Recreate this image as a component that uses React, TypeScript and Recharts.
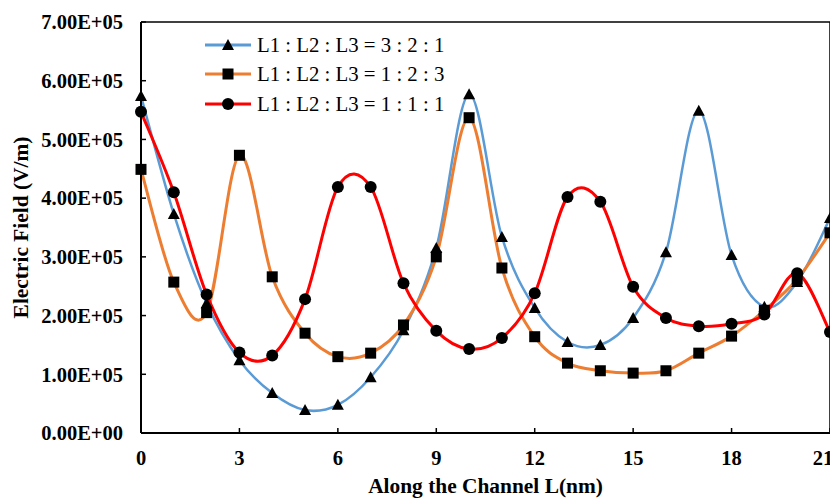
import React from 'react'
import {
  LineChart,
  Line,
  XAxis,
  YAxis,
  Legend,
  Label,
  ReferenceLine,
} from 'recharts'

// positions along the channel (nm)
const positions = [0, 1, 2, 3, 4, 5, 6, 7, 8, 9, 10, 11, 12, 13, 14, 15, 16, 17, 18, 19, 20, 21]

const ratio321 = [
  574000, 373000, 221000, 124000, 68000, 39000, 48000, 95000, 175000, 315000, 577000,
  334000, 213000, 155000, 150000, 196000, 308000, 549000, 303000, 215000, 257000, 366000,
]
const ratio123 = [
  449000, 257000, 205000, 473000, 266000, 170000, 130000, 136000, 184000, 300000, 537000,
  281000, 164000, 119000, 106000, 102000, 106000, 136000, 165000, 209000, 262000, 341000,
]
const ratio111 = [
  547000, 410000, 236000, 137000, 132000, 228000, 419000, 419000, 255000, 174000, 143000,
  162000, 238000, 402000, 394000, 249000, 196000, 182000, 186000, 202000, 272000, 172000,
]

const xTicks = [0, 3, 6, 9, 12, 15, 18, 21]
const yTicks = [0, 100000, 200000, 300000, 400000, 500000, 600000, 700000]

const seriesNames = ['L1 : L2 : L3 = 3 : 2 : 1', 'L1 : L2 : L3 = 1 : 2 : 3', 'L1 : L2 : L3 = 1 : 1 : 1']

const data = positions.map((x, i) => ({
  x,
  a: ratio321[i],
  b: ratio123[i],
  c: ratio111[i],
}))

const SERIF = '"Liberation Serif", "Times New Roman", serif'

// Excel-like smoothing (Catmull-Rom through the points)
const excelSmooth = (context: any) => {
  let pts: number[][] = []
  return {
    areaStart() {},
    areaEnd() {},
    lineStart() {
      pts = []
    },
    point(x: number, y: number) {
      pts.push([+x, +y])
    },
    lineEnd() {
      const n = pts.length
      if (!n) return
      context.moveTo(pts[0][0], pts[0][1])
      for (let i = 0; i < n - 1; i++) {
        const p0 = pts[i - 1] || pts[i]
        const p1 = pts[i]
        const p2 = pts[i + 1]
        const p3 = pts[i + 2] || p2
        context.bezierCurveTo(
          p1[0] + (p2[0] - p0[0]) / 6,
          p1[1] + (p2[1] - p0[1]) / 6,
          p2[0] - (p3[0] - p1[0]) / 6,
          p2[1] - (p3[1] - p1[1]) / 6,
          p2[0],
          p2[1]
        )
      }
    },
  }
}

const sciFormat = (v: number) => {
  if (v === 0) return '0.00E+00'
  const e = Math.floor(Math.log10(Math.abs(v)))
  const m = v / Math.pow(10, e)
  return `${m.toFixed(2)}E${e >= 0 ? '+' : '-'}${String(Math.abs(e)).padStart(2, '0')}`
}

function Marker({ kind, cx, cy }: { kind: string; cx: number; cy: number }) {
  if (kind === 'triangle') {
    return <path d={`M${cx},${cy - 6}L${cx + 6},${cy + 5}L${cx - 6},${cy + 5}Z`} fill="#000" />
  }
  if (kind === 'square') {
    return <rect x={cx - 5.5} y={cy - 5.5} width={11} height={11} fill="#000" />
  }
  return <circle cx={cx} cy={cy} r={6} fill="#000" />
}

const series = [
  { key: 'a', color: '#5B9BD5', width: 2.5, marker: 'triangle' },
  { key: 'b', color: '#ED7D31', width: 3, marker: 'square' },
  { key: 'c', color: '#FF0000', width: 3, marker: 'circle' },
]

function LegendBox() {
  return (
    <div style={{ fontFamily: SERIF, fontSize: 20.8, color: '#000' }}>
      {series.map((s, i) => (
        <div key={s.key} style={{ display: 'flex', alignItems: 'center', height: 29.5 }}>
          <svg width={52} height={20}>
            <line x1={0} y1={10} x2={46} y2={10} stroke={s.color} strokeWidth={3} />
            <Marker kind={s.marker} cx={23} cy={10} />
          </svg>
          <span style={{ whiteSpace: 'nowrap' }}>{seriesNames[i]}</span>
        </div>
      ))}
    </div>
  )
}

// bottom tick label; the last one is pulled in a little, as Excel does at the edge
function XTick(props: any) {
  const { x, y, payload } = props
  const last = payload.value === xTicks[xTicks.length - 1]
  return (
    <text
      x={last ? x - 7 : x}
      y={y}
      dy="0.72em"
      textAnchor="middle"
      fill="#000"
      fontSize={20.5}
      fontWeight={700}
      fontFamily={SERIF}
    >
      {payload.value}
    </text>
  )
}

export default function App() {
  const tickStyle = { fill: '#000', fontSize: 20.5, fontWeight: 700, fontFamily: SERIF }
  return (
    <div style={{ fontFamily: SERIF }}>
      <LineChart
        width={830}
        height={493}
        data={data}
        margin={{ top: 14, right: 8, bottom: 0, left: 0 }}
      >
        <XAxis
          dataKey="x"
          type="number"
          domain={[0, 21]}
          ticks={xTicks}
          height={68}
          axisLine={{ stroke: '#000', strokeWidth: 2 }}
          tickLine={{ stroke: '#000', strokeWidth: 1.5 }}
          tickSize={-5}
          tickMargin={22}
          tick={(p: any) => <XTick key={p.payload.value} {...p} />}
        >
          <Label
            value="Along the Channel L(nm)"
            position="insideBottom"
            offset={8}
            style={{ fill: '#000', fontSize: 21.4, fontWeight: 700, fontFamily: SERIF }}
          />
        </XAxis>
        <YAxis
          type="number"
          domain={[0, 700000]}
          ticks={yTicks}
          width={133}
          tickFormatter={sciFormat}
          axisLine={{ stroke: '#000', strokeWidth: 2 }}
          tickLine={{ stroke: '#000', strokeWidth: 1.5 }}
          tickSize={-5}
          tickMargin={23}
          tick={tickStyle}
        >
          <Label
            content={({ viewBox }: any) => {
              const cx = viewBox.x + 13
              const cy = viewBox.y + viewBox.height / 2
              return (
                <text
                  x={cx}
                  y={cy}
                  transform={`rotate(-90, ${cx}, ${cy})`}
                  textAnchor="middle"
                  dominantBaseline="central"
                  fill="#000"
                  fontSize={21.4}
                  fontWeight={700}
                  fontFamily={SERIF}
                >
                  Electric Field (V/m)
                </text>
              )
            }}
          />
        </YAxis>
        <ReferenceLine y={700000} stroke="#000" strokeWidth={1.5} />
        <ReferenceLine x={21} stroke="#000" strokeWidth={1.5} />
        <Legend
          layout="vertical"
          align="center"
          verticalAlign="middle"
          wrapperStyle={{ top: 22, left: 197, width: 'auto' }}
          content={() => <LegendBox />}
        />
        {series.map((s, i) => (
          <Line
            key={s.key}
            dataKey={s.key}
            name={seriesNames[i]}
            type={excelSmooth as any}
            stroke={s.color}
            strokeWidth={s.width}
            isAnimationActive={false}
            dot={(p: any) => <Marker key={`${s.key}-${p.index}`} kind={s.marker} cx={p.cx} cy={p.cy} />}
            activeDot={false}
          />
        ))}
      </LineChart>
    </div>
  )
}
